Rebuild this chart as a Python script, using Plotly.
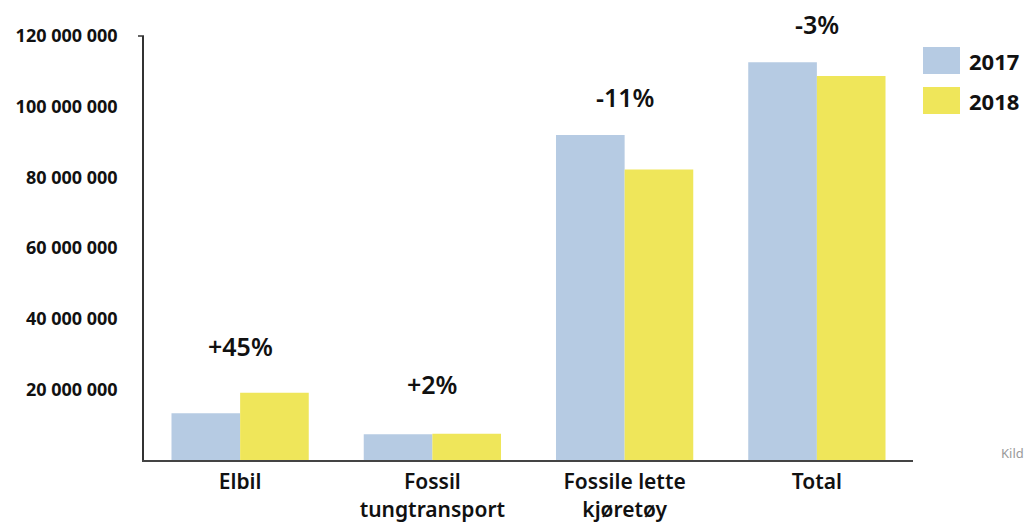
import plotly.graph_objects as go

# Energy use by vehicle group, 2017 vs 2018
categories = ["Elbil", "Fossil<br>tungtransport", "Fossile lette<br>kjøretøy", "Total"]
values_2017 = [13_200_000, 7_300_000, 92_000_000, 112_600_000]
values_2018 = [19_000_000, 7_450_000, 82_200_000, 108_700_000]
change_labels = ["+45%", "+2%", "-11%", "-3%"]
label_lift = [47, 50, 38, 38]
y_ticks = [20_000_000, 40_000_000, 60_000_000, 80_000_000, 100_000_000, 120_000_000]

BLUE = "#b6cbe3"
YELLOW = "#efe65a"
FONT = "Noto Sans"

fig = go.Figure()
fig.add_trace(go.Bar(name="2017", x=categories, y=values_2017, marker_color=BLUE,
                     marker_line_width=0, showlegend=False))
fig.add_trace(go.Bar(name="2018", x=categories, y=values_2018, marker_color=YELLOW,
                     marker_line_width=0, showlegend=False))

# change labels above each group
for cat, a, b, txt, lift in zip(categories, values_2017, values_2018, change_labels, label_lift):
    fig.add_annotation(x=cat, y=max(a, b), text=txt, showarrow=False, yanchor="middle",
                       yshift=lift, font=dict(family=FONT, size=25, color="#111", weight=600))

# hand-drawn legend on the right
W = 769.0
H = 423.5
def px_x(p):
    return (p - 144) / W
def px_y(p):
    return (459.5 - p) / H

for (top, bot), col, name in [((47, 74), BLUE, "2017"), ((87, 114), YELLOW, "2018")]:
    fig.add_shape(type="rect", xref="paper", yref="paper", x0=px_x(923), x1=px_x(960),
                  y0=px_y(bot), y1=px_y(top), fillcolor=col, line_width=0)
    fig.add_annotation(xref="paper", yref="paper", x=px_x(967), y=px_y((top + bot) / 2),
                       text=name, showarrow=False, xanchor="left", yanchor="middle",
                       font=dict(family=FONT, size=22, color="#111", weight=700))

# small cap tick at the top of the value axis
fig.add_shape(type="line", xref="paper", yref="paper", x0=px_x(138), x1=0, y0=1, y1=1,
              line=dict(color="#333", width=1.5))

fig.add_annotation(xref="paper", yref="paper", x=px_x(999), y=px_y(453), text="Kild",
                   showarrow=False, xanchor="left", yanchor="middle",
                   font=dict(family=FONT, size=13, color="#9a9a9a"))

fig.update_layout(
    width=1026, height=526,
    margin=dict(l=144, r=113, t=36, b=66, autoexpand=False),
    paper_bgcolor="white", plot_bgcolor="white",
    barmode="group", bargap=0.286, bargroupgap=0,
    separators=", ",
    font=dict(family=FONT, color="#111"),
)
fig.update_xaxes(
    showline=True, linecolor="#444", linewidth=2, ticks="", showgrid=False,
    range=[-0.5, 3.5], ticklabelstandoff=2,
    tickfont=dict(family=FONT, size=21, color="#111", weight=600),
)
fig.update_yaxes(
    range=[0, 120_000_000], tickvals=y_ticks, tickformat=",d",
    showline=True, linecolor="#333", linewidth=1.5, ticks="", showgrid=False,
    zeroline=False, ticklabelstandoff=21,
    tickfont=dict(family=FONT, size=18, color="#111", weight=700),
)

fig.write_html("out.html")
